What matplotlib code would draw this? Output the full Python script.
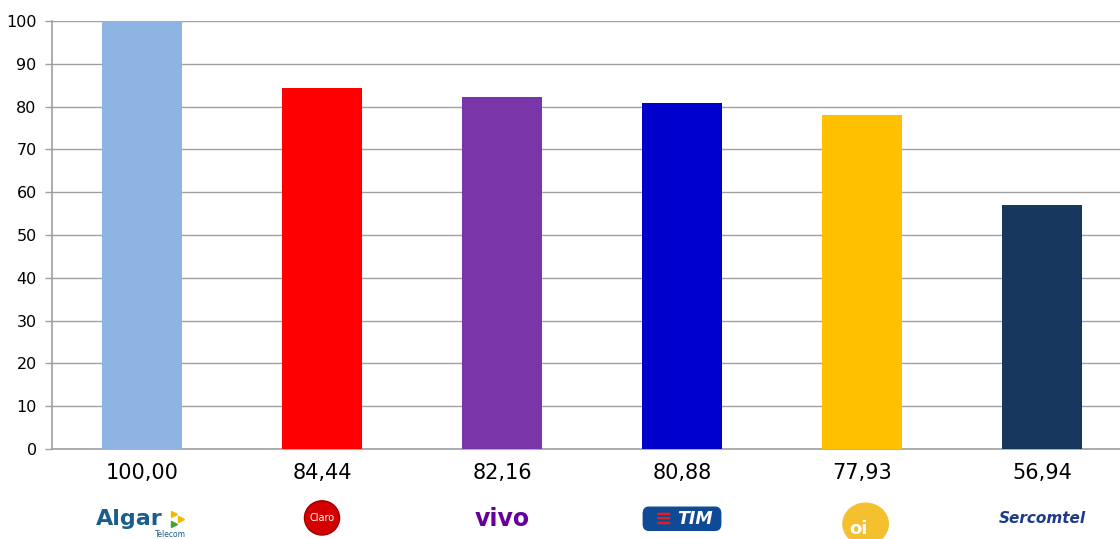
import numpy as np
import matplotlib
matplotlib.use('Agg')
import matplotlib.pyplot as plt
from matplotlib.patches import FancyBboxPatch, Ellipse

# data
operators = ['Algar', 'Claro', 'vivo', 'TIM', 'oi', 'Sercomtel']
values = [100.00, 84.44, 82.16, 80.88, 77.93, 56.94]
value_labels = ['100,00', '84,44', '82,16', '80,88', '77,93', '56,94']
bar_colors = ['#8EB4E3', '#FF0000', '#7A36A8', '#0000CC', '#FFC000', '#17375E']
y_ticks = [0, 10, 20, 30, 40, 50, 60, 70, 80, 90, 100]

fig = plt.figure(figsize=(11.2, 5.39), dpi=100)
W, H = 1120, 539
ax = fig.add_axes([52 / W, (H - 449) / H, 1080 / W, 428 / H])

x = np.arange(len(operators))
ax.bar(x, values, width=0.44, color=bar_colors, zorder=3)

ax.set_xlim(-0.5, len(operators) - 0.5)
ax.set_ylim(0, 100)
ax.set_yticks(y_ticks)
ax.yaxis.grid(True, color='#A0A0A0', linewidth=1.0, zorder=0)
ax.set_axisbelow(True)

for s in ['top', 'right']:
    ax.spines[s].set_visible(False)
for s in ['left', 'bottom']:
    ax.spines[s].set_color('#A0A0A0')
    ax.spines[s].set_linewidth(1.2)

ax.tick_params(axis='y', length=5, width=1, color='#A0A0A0', labelsize=11.5, pad=6)
ax.tick_params(axis='x', length=0, pad=10)
ax.set_xticks(x)
ax.set_xticklabels(value_labels, fontsize=15)

# logos drawn as text / shapes below the numbers
ly = -0.163
tr = ax.get_xaxis_transform()

# Algar Telecom
ax.text(x[0] - 0.07, ly, 'Algar', transform=tr, ha='center', va='center',
        fontsize=16, fontweight='bold', color='#1B5E8C', clip_on=False)
for dx, dy, c in [(0.18, 0.012, '#F2B800'), (0.18, -0.012, '#3BA53B'), (0.215, 0.0, '#F2B800')]:
    ax.plot(x[0] + dx, ly + dy, marker='>', markersize=4, color=c,
            transform=tr, clip_on=False, linestyle='none')
ax.text(x[0] + 0.16, ly - 0.037, 'Telecom', transform=tr, ha='center', va='center',
        fontsize=5.5, color='#1B5E8C', clip_on=False)

# Claro
ax.add_patch(Ellipse((x[1], ly + 0.002), 0.195, 0.08, transform=tr,
                     facecolor='#D40000', edgecolor='#A00000', clip_on=False))
ax.text(x[1], ly + 0.002, 'Claro', transform=tr, ha='center', va='center',
        fontsize=7, color='white', clip_on=False)

# vivo
ax.text(x[2], ly, 'vivo', transform=tr, ha='center', va='center',
        fontsize=17, fontweight='bold', color='#660099', clip_on=False)

# TIM
ax.add_patch(FancyBboxPatch((x[3] - 0.215, ly - 0.027), 0.43, 0.054,
                            boxstyle='round,pad=0.0,rounding_size=0.03',
                            transform=tr, facecolor='#0E4A95', edgecolor='#0E4A95',
                            clip_on=False, mutation_aspect=0.5))
ax.text(x[3] - 0.1, ly, '\u2261', transform=tr, ha='center', va='center',
        fontsize=15, color='#E02020', fontweight='bold', clip_on=False)
ax.text(x[3] + 0.07, ly, 'TIM', transform=tr, ha='center', va='center',
        fontsize=12.5, fontweight='bold', style='italic', color='white', clip_on=False)

# oi
ax.add_patch(Ellipse((x[4] + 0.02, ly - 0.012), 0.26, 0.1, transform=tr,
                     facecolor='#F5C02E', edgecolor='none', clip_on=False))
ax.text(x[4] - 0.02, ly - 0.025, 'oi', transform=tr, ha='center', va='center',
        fontsize=13, fontweight='bold', color='white', clip_on=False)

# Sercomtel
ax.text(x[5], ly, 'Sercomtel', transform=tr, ha='center', va='center',
        fontsize=11, fontweight='bold', style='italic', color='#1E3A8A', clip_on=False)

fig.savefig('out.png', dpi=100)
